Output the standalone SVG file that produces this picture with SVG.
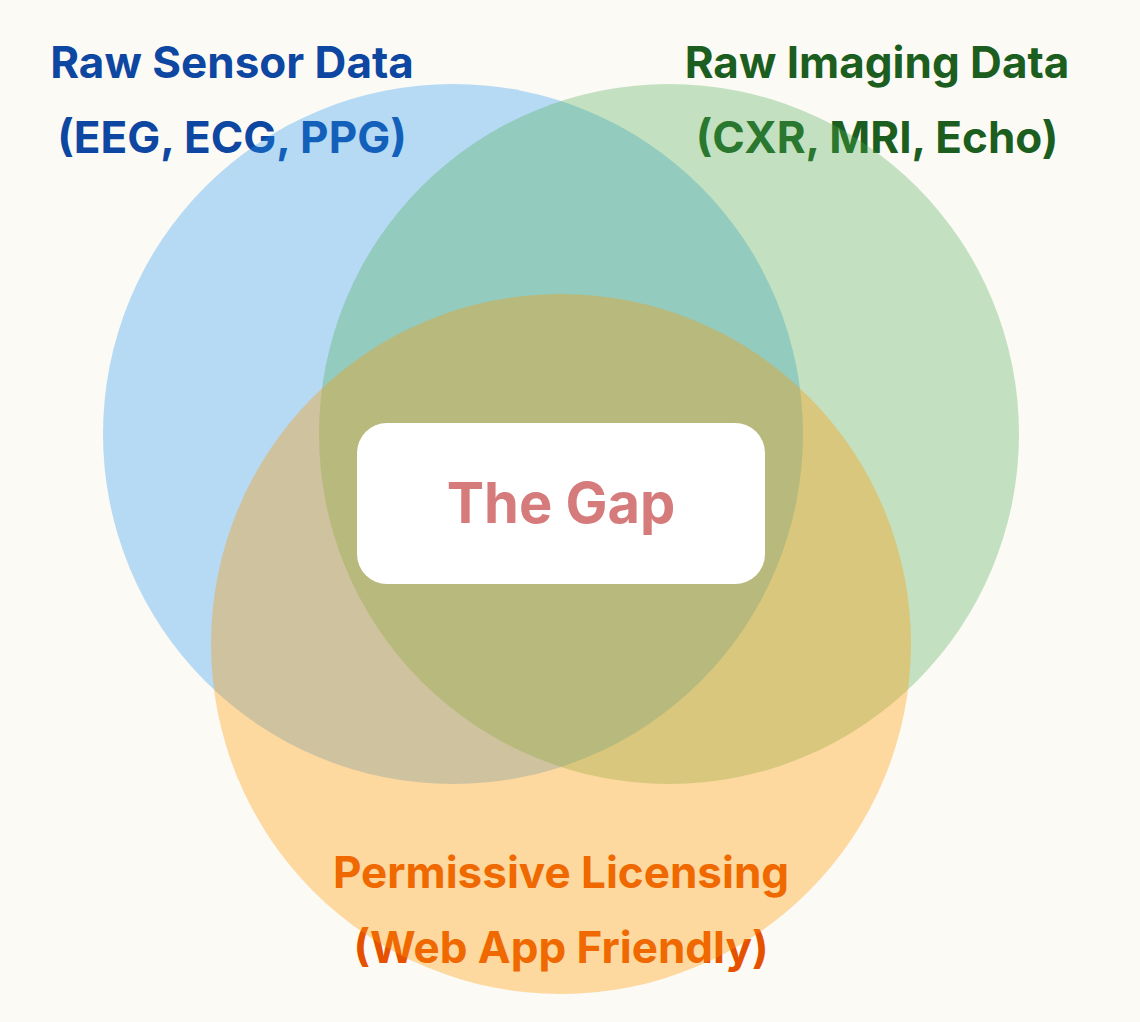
<svg xmlns="http://www.w3.org/2000/svg" width="1140" height="1022" viewBox="0 0 1140 1022">
<style>
text{font-family:Inter,"Noto Sans","Liberation Sans",sans-serif;font-weight:700;text-anchor:middle}
.l{font-size:44px}
</style>
<rect width="1140" height="1022" fill="#fcfaf5"/>
<g id="labels">
<text class="l" x="232" y="78" fill="#0d47a1">Raw Sensor Data</text>
<text class="l" x="232" y="153" fill="#0d47a1">(EEG, ECG, PPG)</text>
<text class="l" x="877" y="78" fill="#1b5e20">Raw Imaging Data</text>
<text class="l" x="877" y="153" fill="#1b5e20">(CXR, MRI, Echo)</text>
<text class="l" x="561" y="888" fill="#e65100">Permissive Licensing</text>
<text class="l" x="561" y="963" fill="#e65100">(Web App Friendly)</text>
</g>
<g id="sensor"><circle cx="453" cy="434" r="350" fill="#2196f3" fill-opacity="0.32"/></g>
<g id="imaging"><circle cx="669" cy="434" r="350" fill="#4caf50" fill-opacity="0.32"/></g>
<g id="licensing"><circle cx="561" cy="644" r="350" fill="#ff9800" fill-opacity="0.35"/></g>
<g id="gap">
<rect x="357" y="423" width="408" height="161" rx="30" fill="#ffffff"/>
<text x="561" y="523" font-size="56" fill="#d67b7b">The Gap</text>
</g>
<g id="connectors"/>
</svg>
